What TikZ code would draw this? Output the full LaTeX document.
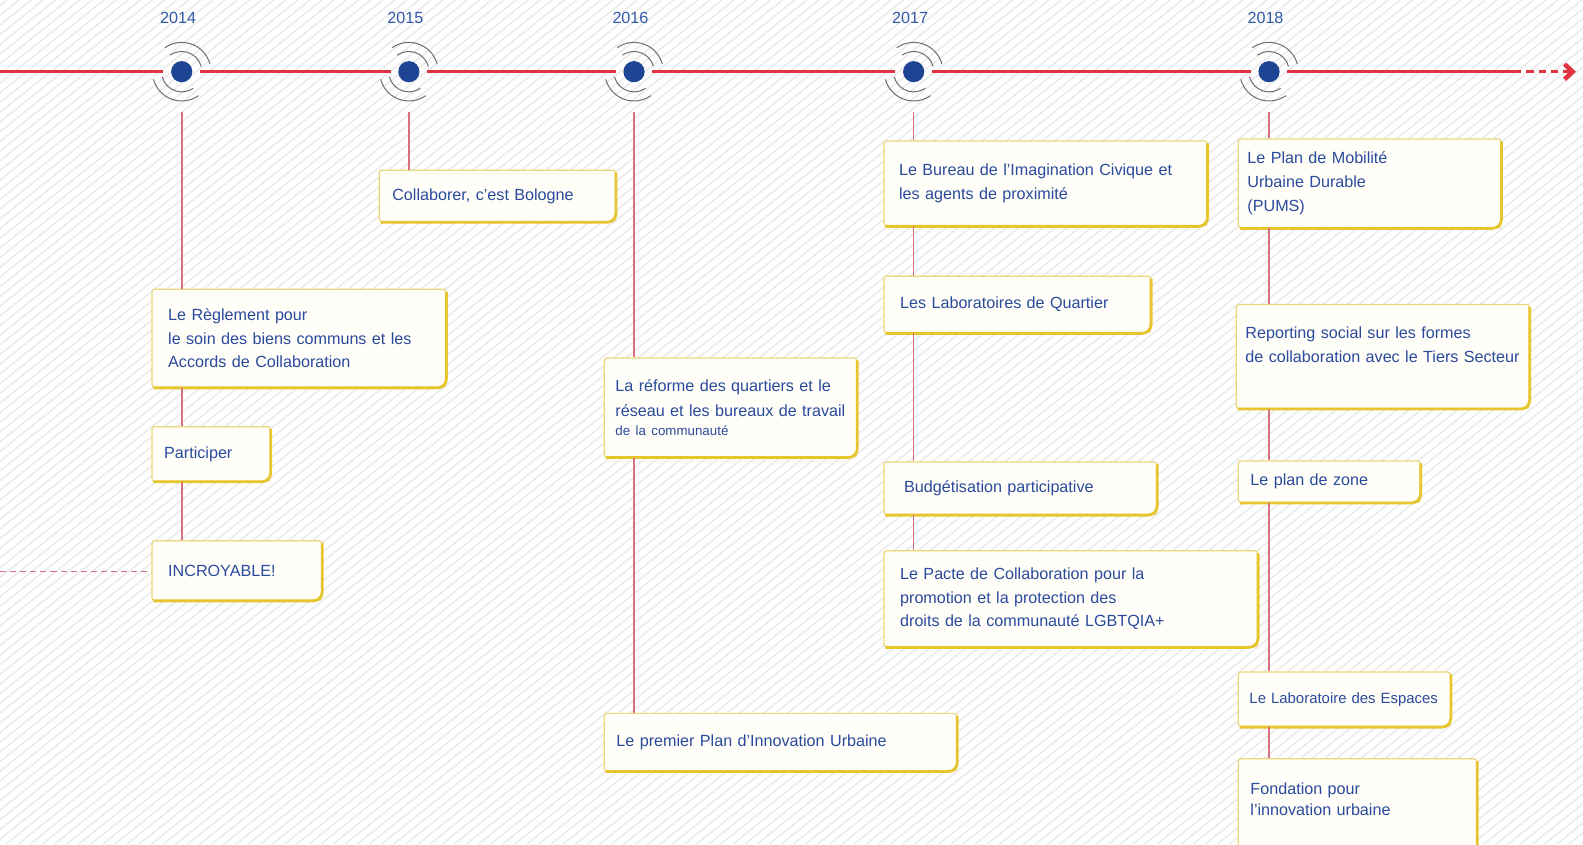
\documentclass[tikz,border=0pt]{standalone}
\usepackage{fontspec}
\setmainfont{Liberation Sans}
\usetikzlibrary{arrows.meta}
\hyphenpenalty=10000
\exhyphenpenalty=10000

\definecolor{axisred}{HTML}{E2323F}
\definecolor{linkpink}{HTML}{D9707F}
\definecolor{dotblue}{HTML}{1D4594}
\definecolor{wavegray}{HTML}{6E6E6E}
\definecolor{yearblue}{HTML}{3159A8}
\definecolor{textblue}{HTML}{2A4A9C}
\definecolor{boxedge}{HTML}{EAD77C}
\definecolor{boxgold}{HTML}{E7C52F}
\definecolor{boxfill}{HTML}{FFFEF8}
\definecolor{hatchgray}{HTML}{EBEBEB}

\tikzset{
  hatch/.style={hatchgray, line width=1.6pt},
  axis/.style={axisred, line width=2.6pt},
  link/.style={linkpink, line width=1.6pt},
  ring/.style={circle, minimum size=36pt, inner sep=0pt},
  wave/.style={wavegray, line width=1pt},
  yearlab/.style={text=yearblue, font=\fontsize{16}{19}\selectfont},
  rim/.style={boxgold, line width=2.8pt, fill=none, rounded corners=9pt},
  box/.style={anchor=north west, draw=boxedge, line width=1.2pt, fill=boxfill,
    rounded corners=2.5pt, align=left, inner ysep=4pt, text=textblue,
    font=\fontsize{16}{23.5}\selectfont,
    append after command={\pgfextra{\let\mainnode=\tikzlastnode}
      ([yshift=-3pt]\mainnode.north east) edge[rim, to path={|- (\tikztotarget)}]
      ([xshift=2pt]\mainnode.south west)}}
}

\begin{document}
\begin{tikzpicture}[x=1pt, y=-1pt]
  \useasboundingbox (0,0) rectangle (1568,836);
  % background hatching
  \begin{scope}
    \clip (0,0) rectangle (1568,836);
    \foreach \i in {-1050,-1038,...,1568}
      \draw[hatch] (\i,836) -- ++(1045,-836);
  \end{scope}

  % time line
  \coordinate (tstart) at (0,71);
  \coordinate (tend) at (1500,71);
  \coordinate (tarrow) at (1561,71);
  \foreach \n/\x/\yr in {y14/180/2014, y15/405/2015, y16/628/2016, y17/905/2017, y18/1257/2018}{
    \node[ring] (\n) at (\x,71) {};
    \node[yearlab] (\n-lab) at (\x-3.5,18) {\yr};
    \fill[dotblue] (\n.center) circle[radius=10.5pt];
    \draw[wave] ([shift={(15:20pt)}]\n.center) arc[start angle=15, end angle=125, radius=20pt];
    \draw[wave] ([shift={(15:29pt)}]\n.center) arc[start angle=15, end angle=125, radius=29pt];
    \draw[wave] ([shift={(195:20pt)}]\n.center) arc[start angle=195, end angle=305, radius=20pt];
    \draw[wave] ([shift={(195:29pt)}]\n.center) arc[start angle=195, end angle=305, radius=29pt];
  }
  \foreach \a/\b in {tstart/y14, y14/y15, y15/y16, y16/y17, y17/y18, y18/tend}
    \draw[axis] (\a) -- (\b);
  \draw[axis, dash pattern=on 7pt off 5pt,
    -{Straight Barb[length=8pt, width=15pt, line width=4.5pt]}] (tend) -- (tarrow);

  % 2014
  \node[box, minimum width=291, minimum height=97, inner xsep=16, text width=259] (regl) at (150,286)
    {Le Règlement pour\\le soin des biens communs et les\\Accords de Collaboration};
  \node[box, minimum width=117, minimum height=54, inner xsep=12, text width=93] (part) at (150,422) {Participer};
  \node[box, minimum width=168, minimum height=59, inner xsep=16, text width=136] (incr) at (150,535) {INCROYABLE!};
  \coordinate (back) at (0,566);

  % 2015
  \node[box, minimum width=234, minimum height=51, inner xsep=13, text width=208] (bolo) at (375,168) {Collaborer, c’est Bologne};

  % 2016
  \node[box, minimum width=250, minimum height=98, inner xsep=11, text width=228] (refo) at (598,354)
    {La réforme des quartiers et le\\[2pt]réseau et les bureaux de travail\\[-5pt]\mbox{\fontsize{13.2}{16}\selectfont de la communauté}};
  \node[box, minimum width=349, minimum height=57, inner xsep=12, text width=325] (piu) at (598,706) {Le premier Plan d’Innovation Urbaine};

  % 2017
  \node[box, minimum width=320, minimum height=84, inner xsep=15, text width=290] (bic) at (875,139)
    {Le Bureau de l'Imagination Civique et\\les agents de proximité};
  \node[box, minimum width=264, minimum height=56, inner xsep=16, text width=232] (labq) at (875,273) {Les Laboratoires de Quartier};
  \node[box, minimum width=270, minimum height=52, inner xsep=20, text width=230] (budg) at (875,457) {Budgétisation participative};
  \node[box, minimum width=370, minimum height=95, inner xsep=16, text width=338] (pacte) at (875,545)
    {Le Pacte de Collaboration pour la\\promotion et la protection des\\droits de la communauté LGBTQIA+};

  % 2018
  \node[box, minimum width=260, minimum height=88, inner xsep=9, text width=242] (pums) at (1226,137)
    {Le Plan de Mobilité\\Urbaine Durable\\(PUMS)};
  \node[box, minimum width=290, minimum height=103, inner xsep=9, text width=272] (repo) at (1224,301)
    {Reporting social sur les formes\\de collaboration avec le Tiers Secteur\\ ~};
  \node[box, minimum width=180, minimum height=41, inner xsep=12, text width=156] (zone) at (1226,456) {Le plan de zone};
  \node[box, minimum width=210, minimum height=54, inner xsep=11, text width=188, font=\fontsize{14.8}{18}\selectfont] (esp) at (1226,665)
    {Le Laboratoire des Espaces};
  \node[box, minimum width=236, minimum height=100, inner xsep=12, text width=212, font=\fontsize{16}{20}\selectfont] (fond) at (1226,751)
    {Fondation pour\\l'innovation urbaine\\ ~};

  % connectors
  \draw[link, shorten <=22pt] (y14) -- (y14 |- regl.north);
  \draw[link] (regl.south -| y14) -- (part.north -| y14);
  \draw[link] (part.south -| y14) -- (incr.north -| y14);
  \draw[link, dash pattern=on 6pt off 4pt] (back) -- (back -| incr.west);
  \draw[link, shorten <=22pt] (y15) -- (y15 |- bolo.north);
  \draw[link, shorten <=22pt] (y16) -- (y16 |- refo.north);
  \draw[link] (refo.south -| y16) -- (piu.north -| y16);
  \draw[link, shorten <=22pt] (y17) -- (y17 |- bic.north);
  \draw[link] (bic.south -| y17) -- (labq.north -| y17);
  \draw[link] (labq.south -| y17) -- (budg.north -| y17);
  \draw[link] (budg.south -| y17) -- (pacte.north -| y17);
  \draw[link, shorten <=22pt] (y18) -- (y18 |- pums.north);
  \draw[link] (pums.south -| y18) -- (repo.north -| y18);
  \draw[link] (repo.south -| y18) -- (zone.north -| y18);
  \draw[link] (zone.south -| y18) -- (esp.north -| y18);
  \draw[link] (esp.south -| y18) -- (fond.north -| y18);
\end{tikzpicture}
\end{document}
